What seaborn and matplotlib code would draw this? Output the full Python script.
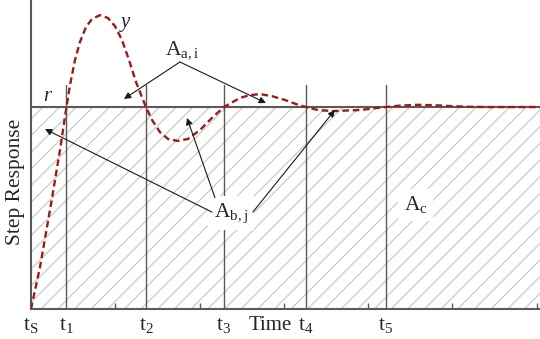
import numpy as np
import pandas as pd
import seaborn as sns
import matplotlib.pyplot as plt

# step response curve
time_pts = [0.0, 0.107, 0.246, 0.344, 0.421, 0.463, 0.522, 0.581, 0.652, 0.724,
            0.818, 0.913, 0.996, 1.079, 1.163, 1.246, 1.364, 1.436, 1.530, 1.625,
            1.744, 1.862, 2.005, 2.147, 2.289, 2.479, 2.598, 2.716, 2.859, 3.013,
            3.144, 3.262, 3.405, 3.582, 3.760, 3.903, 4.057, 4.211, 4.377, 4.579,
            4.792, 4.970, 5.208, 5.445, 6.04]
resp_pts = [0.0, 0.208, 0.540, 0.787, 1.0, 1.109, 1.233, 1.322, 1.396, 1.436,
            1.455, 1.441, 1.401, 1.332, 1.233, 1.124, 1.0, 0.936, 0.876, 0.842,
            0.832, 0.842, 0.886, 0.946, 1.0, 1.045, 1.059, 1.064, 1.054, 1.035,
            1.015, 1.0, 0.985, 0.980, 0.983, 0.985, 0.993, 1.0, 1.007, 1.011,
            1.009, 1.005, 1.001, 1.0, 1.0]

# crossing times and their labels
t_marks = [0.0, 0.415, 1.364, 2.289, 3.262, 4.211]
t_labels = ['t$_\\mathrm{S}$', 't$_\\mathrm{1}$', 't$_\\mathrm{2}$',
            't$_\\mathrm{3}$', 't$_\\mathrm{4}$', 't$_\\mathrm{5}$']
grid_ticks = [0, 1, 2, 3, 4, 5, 6]
r_level = 1.0

sns.set_style('white')
plt.rcParams['font.family'] = ['Liberation Serif', 'DejaVu Serif']
plt.rcParams['mathtext.fontset'] = 'custom'
plt.rcParams['mathtext.rm'] = 'Liberation Serif'
plt.rcParams['mathtext.it'] = 'Liberation Serif:italic'
plt.rcParams['hatch.linewidth'] = 0.9
plt.rcParams['hatch.color'] = '#c3cecc'

fig = plt.figure(figsize=(5.4, 3.39), dpi=100)
ax = fig.add_axes([31 / 540, 30 / 339, 509 / 540, 309 / 339])

xmax = 6.04
ax.set_xlim(0, xmax)
ax.set_ylim(0, 1.53)

# hatched area under r
ax.fill_between([0, xmax], 0, r_level, facecolor='none', edgecolor='#c3cecc',
                hatch='//', linewidth=0, zorder=1)

# r line and vertical markers
ax.axhline(r_level, color='#5a5a5a', lw=1.5, zorder=2)
for t in t_marks[1:]:
    ax.plot([t, t], [0, 1.109], color='#5a5a5a', lw=1.0, zorder=2)

df = pd.DataFrame({'time': time_pts, 'resp': resp_pts})
sns.lineplot(data=df, x='time', y='resp', ax=ax, color='#a01818', lw=1.7,
             linestyle=(0, (2.8, 1.6)), sort=False, zorder=4)

# ticks
ax.set_xticks(t_marks)
ax.set_xticklabels(t_labels, fontsize=15.5)
ax.set_xticks(grid_ticks, minor=True)
ax.tick_params(axis='x', which='major', direction='out', length=4, width=1,
               color='#5a5a5a', pad=1)
ax.tick_params(axis='x', which='minor', direction='in', length=4, width=1,
               color='#5a5a5a', bottom=True)
ax.set_yticks([])
ax.set_xlabel('')
ax.set_ylabel('Step Response', fontsize=15.5)
ax.yaxis.set_label_coords(-0.012, 0.41)

sns.despine(ax=ax)
for side in ['left', 'bottom']:
    ax.spines[side].set_color('#5a5a5a')
    ax.spines[side].set_linewidth(1.5)

ax.text(2.835, -0.035, 'Time', fontsize=15, ha='center', va='top', clip_on=False)
ax.text(0.19, 1.05, 'r', fontsize=15, style='italic', ha='center', va='center')
ax.text(1.115, 1.42, 'y', fontsize=15, style='italic', ha='center', va='center')

box = dict(facecolor='white', edgecolor='none', pad=1)
ax.text(1.79, 1.282, 'A$_\\mathrm{a,i}$', fontsize=15.5, ha='center', va='center',
        bbox=box, zorder=6)
ax.text(2.372, 0.475, 'A$_\\mathrm{b,j}$', fontsize=15.5, ha='center', va='center',
        bbox=dict(facecolor='white', edgecolor='none', pad=4), zorder=6)
ax.text(4.567, 0.515, 'A$_\\mathrm{c}$', fontsize=15.5, ha='center', va='center',
        bbox=dict(facecolor='white', edgecolor='none', pad=4), zorder=6)

arrow = dict(arrowstyle='-|>', color='#1a1a1a', lw=0.8, mutation_scale=10,
             shrinkA=0, shrinkB=0)
for tip in [(1.103, 1.040), (2.788, 1.020)]:
    ax.annotate('', xy=tip, xytext=(1.767, 1.223), arrowprops=arrow, zorder=7)
for start, tip in [((2.147, 0.480), (0.166, 0.891)),
                   ((2.183, 0.551), (1.851, 0.946)),
                   ((2.633, 0.480), (3.606, 0.985))]:
    ax.annotate('', xy=tip, xytext=start, arrowprops=arrow, zorder=7)

fig.savefig('out.png', dpi=100)
